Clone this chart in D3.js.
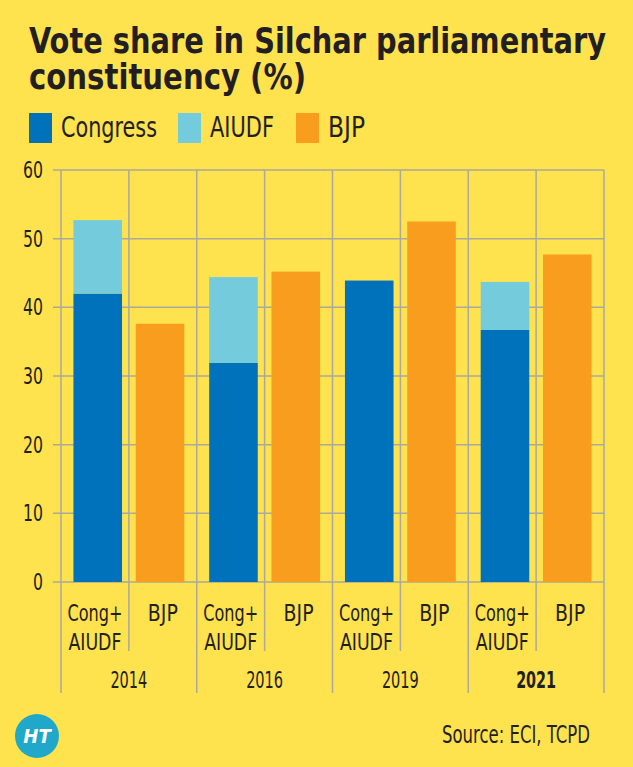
<!DOCTYPE html>
<html>
<head>
<meta charset="utf-8">
<script src="https://cdn.jsdelivr.net/npm/d3@7"></script>
<style>
  html, body { margin: 0; padding: 0; background: #fee24e; }
  svg { display: block; }
  text { font-family: "DejaVu Sans Condensed", "DejaVu Sans", sans-serif; font-stretch: condensed; fill: #231f20; }
</style>
</head>
<body>
<div id="chart"></div>
<script>
// data
const years = ['2014', '2016', '2019', '2021'];
const groups = ['Cong+AIUDF', 'BJP'];
const congress = [42.0, 31.9, 43.9, 36.7];
const aiudf = [10.7, 12.5, 0, 7.0];
const bjp = [37.6, 45.2, 52.5, 47.7];
const yTicks = [0, 10, 20, 30, 40, 50, 60];
const legendItems = ['Congress', 'AIUDF', 'BJP'];

const colors = { Congress: '#0071bb', AIUDF: '#74cbdc', BJP: '#f99d1e' };
const W = 633, H = 767;
const grid = '#aaa99c';

const svg = d3.select('#chart').append('svg')
  .attr('width', W).attr('height', H);

// squeeze a text to a width if it runs wider (the original face is condensed)
function fit(sel, w) {
  sel.each(function () {
    if (this.getComputedTextLength() > w) {
      d3.select(this).attr('textLength', w).attr('lengthAdjust', 'spacingAndGlyphs');
    }
  });
  return sel;
}

// title
const t1 = svg.append('text').attr('x', 29).attr('y', 53)
  .attr('font-size', 36).attr('font-weight', 'bold')
  .text('Vote share in Silchar parliamentary');
fit(t1, 577);
const t2 = svg.append('text').attr('x', 29).attr('y', 89)
  .attr('font-size', 36).attr('font-weight', 'bold')
  .text('constituency (%)');
fit(t2, 277);

// legend
const legendX = [29, 178, 296];
const legendW = [96, 64, 37];
const legend = svg.append('g').selectAll('g').data(legendItems).join('g')
  .attr('transform', (d, i) => `translate(${legendX[i]},113)`);
legend.append('rect').attr('width', 23).attr('height', 30).attr('fill', d => colors[d]);
legend.append('text').attr('x', 32).attr('y', 24).attr('font-size', 29)
  .text(d => d)
  .each(function (d, i) { fit(d3.select(this), legendW[i]); });

// scales
const x = d3.scaleBand().domain(years).range([61, 604]).padding(0);
const xIn = d3.scaleBand().domain(groups).range([0, x.bandwidth()])
  .paddingInner(0.22).paddingOuter(0.2);
const xHalf = d3.scaleBand().domain(groups).range([0, x.bandwidth()]).padding(0);
const y = d3.scaleLinear().domain([0, 60]).range([582, 170]);

// gridlines
const gridG = svg.append('g').attr('stroke', grid).attr('stroke-width', 1.5);
gridG.selectAll('.h').data(yTicks).join('line')
  .attr('x1', 53).attr('x2', 604)
  .attr('y1', d => y(d)).attr('y2', d => y(d));
gridG.selectAll('.v').data(years.concat(['end'])).join('line')
  .attr('x1', (d, i) => i < years.length ? x(d) : 604)
  .attr('x2', (d, i) => i < years.length ? x(d) : 604)
  .attr('y1', y(60)).attr('y2', 693);
gridG.selectAll('.m').data(years).join('line')
  .attr('x1', d => x(d) + xHalf('BJP')).attr('x2', d => x(d) + xHalf('BJP'))
  .attr('y1', y(60)).attr('y2', 651);

// y axis labels
svg.append('g').selectAll('text').data(yTicks).join('text')
  .attr('x', 43).attr('y', d => y(d)).attr('dy', '0.35em')
  .attr('text-anchor', 'end').attr('font-size', 23)
  .text(d => d)
  .each(function (d) { fit(d3.select(this), d === 0 ? 10 : 20); });

// bars
const bars = svg.append('g');
years.forEach((yr, i) => {
  const g = bars.append('g').attr('transform', `translate(${x(yr)},0)`);
  const bw = xIn.bandwidth();
  g.append('rect').attr('x', xIn('Cong+AIUDF')).attr('width', bw)
    .attr('y', y(congress[i])).attr('height', y(0) - y(congress[i]))
    .attr('fill', colors.Congress);
  if (aiudf[i] > 0) {
    g.append('rect').attr('x', xIn('Cong+AIUDF')).attr('width', bw)
      .attr('y', y(congress[i] + aiudf[i])).attr('height', y(congress[i]) - y(congress[i] + aiudf[i]))
      .attr('fill', colors.AIUDF);
  }
  g.append('rect').attr('x', xIn('BJP')).attr('width', bw)
    .attr('y', y(bjp[i])).attr('height', y(0) - y(bjp[i]))
    .attr('fill', colors.BJP);

  // category labels
  const cx = xHalf('Cong+AIUDF') + xHalf.bandwidth() / 2;
  const bx = xHalf('BJP') + xHalf.bandwidth() / 2;
  fit(g.append('text').attr('x', cx).attr('y', 621).attr('text-anchor', 'middle')
    .attr('font-size', 23).text('Cong+'), 55);
  fit(g.append('text').attr('x', cx).attr('y', 650).attr('text-anchor', 'middle')
    .attr('font-size', 23).text('AIUDF'), 53);
  fit(g.append('text').attr('x', bx).attr('y', 621).attr('text-anchor', 'middle')
    .attr('font-size', 23).text('BJP'), 30);
  fit(g.append('text').attr('x', x.bandwidth() / 2).attr('y', 688).attr('text-anchor', 'middle')
    .attr('font-size', 23).attr('font-weight', yr === '2021' ? 'bold' : 'normal')
    .text(yr), yr === '2021' ? 40 : 37);
});

// source
fit(svg.append('text').attr('x', 590).attr('y', 743).attr('text-anchor', 'end')
  .attr('font-size', 24).text('Source: ECI, TCPD'), 148);

// HT logo
const logo = svg.append('g').attr('transform', 'translate(37,736)');
logo.append('circle').attr('r', 22).attr('fill', '#1fa8c9');
logo.append('text').attr('text-anchor', 'middle').attr('dy', '0.35em')
  .attr('font-family', 'DejaVu Serif, serif').attr('font-style', 'italic')
  .attr('font-weight', 'bold').attr('font-size', 20).style('fill', '#fff')
  .style('font-stretch', 'normal')
  .text('HT');
</script>
</body>
</html>
